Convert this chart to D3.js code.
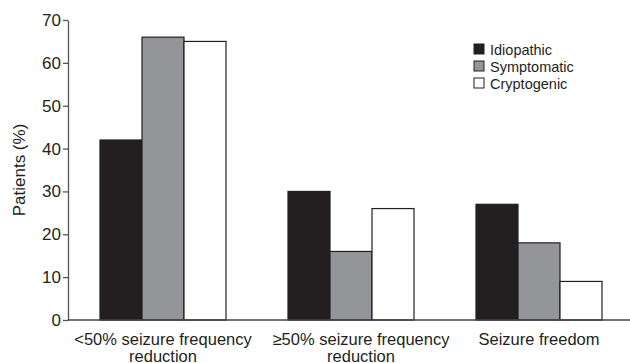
<!DOCTYPE html>
<html>
<head>
<meta charset="utf-8">
<script src="https://cdn.jsdelivr.net/npm/d3@7"></script>
<style>
  body { margin: 0; background: #fff; }
  text { font-family: "Liberation Sans", Arial, sans-serif; fill: #231f20; }
</style>
</head>
<body>
<div id="chart"></div>
<script>
// outcome categories and patient percentages
const categories = [["<50% seizure frequency", "reduction"], ["\u226550% seizure frequency", "reduction"], ["Seizure freedom"]];
const seriesNames = ["Idiopathic", "Symptomatic", "Cryptogenic"];
const idiopathic = [42, 30, 27];
const symptomatic = [66, 16, 18];
const cryptogenic = [65, 26, 9];
const yTicks = [0, 10, 20, 30, 40, 50, 60, 70];

const width = 630, height = 363;
const margin = {top: 20, right: 0, bottom: 43, left: 68};

const svg = d3.select("#chart").append("svg")
  .attr("width", width)
  .attr("height", height);

const color = d3.scaleOrdinal()
  .domain(seriesNames)
  .range(["#231f20", "#939598", "#ffffff"]);

const x0 = d3.scaleBand()
  .domain(d3.range(categories.length))
  .range([69, 633])
  .padding(0);

const x1 = d3.scaleBand()
  .domain(seriesNames)
  .range([0, x0.bandwidth()])
  .paddingInner(0)
  .paddingOuter(0.738);

const y = d3.scaleLinear()
  .domain([0, 70])
  .range([height - margin.bottom, margin.top]);

const values = {Idiopathic: idiopathic, Symptomatic: symptomatic, Cryptogenic: cryptogenic};

// bars
const groups = svg.selectAll(".group")
  .data(categories)
  .join("g")
  .attr("class", "group")
  .attr("transform", (d, i) => `translate(${x0(i)},0)`);

groups.selectAll("rect")
  .data((d, i) => seriesNames.map(s => ({series: s, value: values[s][i]})))
  .join("rect")
  .attr("x", d => x1(d.series))
  .attr("y", d => y(d.value))
  .attr("width", x1.bandwidth())
  .attr("height", d => y(0) - y(d.value))
  .attr("fill", d => color(d.series))
  .attr("stroke", "#231f20")
  .attr("stroke-width", 1.2);

// y axis
const yAxis = svg.append("g")
  .attr("transform", `translate(${margin.left},0)`)
  .call(d3.axisLeft(y).tickValues(yTicks).tickSize(5).tickPadding(2).tickSizeOuter(0));
yAxis.select(".domain").attr("stroke", "#555").attr("stroke-width", 1.3);
yAxis.selectAll(".tick line").attr("stroke", "#555").attr("stroke-width", 1.3);
yAxis.selectAll(".tick text")
  .style("font-size", "17px")
  .style("font-family", "'Liberation Sans', Arial, sans-serif")
  .attr("fill", "#231f20");

// x axis line
svg.append("line")
  .attr("x1", margin.left)
  .attr("x2", width)
  .attr("y1", y(0))
  .attr("y2", y(0))
  .attr("stroke", "#444")
  .attr("stroke-width", 1.5);

// category labels (the middle one sits a little right of its bars in the original)
const labelShift = i => (i === 1 ? 10 : 0);
const labels = svg.selectAll(".cat")
  .data(categories)
  .join("text")
  .attr("class", "cat")
  .attr("text-anchor", "middle")
  .attr("x", (d, i) => x0(i) + x0.bandwidth() / 2 + labelShift(i))
  .attr("y", 345)
  .style("font-size", "16.5px");

labels.selectAll("tspan")
  .data(d => d)
  .join("tspan")
  .attr("x", function() { return d3.select(this.parentNode).attr("x"); })
  .attr("dy", (d, i) => i === 0 ? 0 : 16.5)
  .text(d => d);

// y axis title
svg.append("text")
  .attr("transform", `translate(25,${(y(0) + y(70)) / 2}) rotate(-90)`)
  .attr("text-anchor", "middle")
  .style("font-size", "17px")
  .text("Patients (%)");

// legend
const legend = svg.selectAll(".legend")
  .data(seriesNames)
  .join("g")
  .attr("class", "legend")
  .attr("transform", (d, i) => `translate(474,${44 + i * 17})`);

legend.append("rect")
  .attr("width", 10)
  .attr("height", 10)
  .attr("fill", d => color(d))
  .attr("stroke", "#231f20")
  .attr("stroke-width", 1);

legend.append("text")
  .attr("x", 16)
  .attr("y", 10.5)
  .style("font-size", "14.5px")
  .text(d => d);
</script>
</body>
</html>
